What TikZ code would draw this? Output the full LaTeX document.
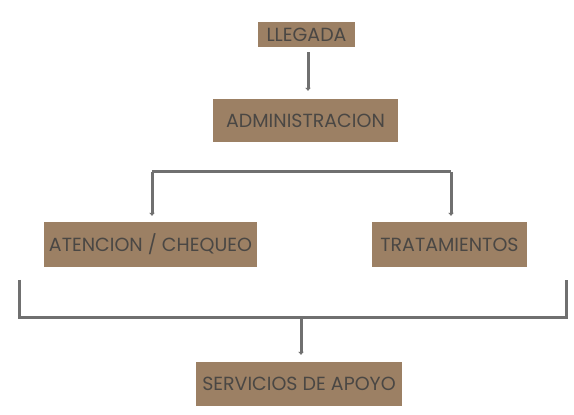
\documentclass[tikz,border=0pt]{standalone}
\usepackage{fontspec}
\setmainfont{Poppins}
\usetikzlibrary{arrows.meta}
\definecolor{boxfill}{HTML}{9C8064}
\definecolor{txt}{HTML}{4A4744}
\definecolor{lin}{HTML}{707070}
\begin{document}
\begin{tikzpicture}[x=1pt,y=1pt,
  box/.style={fill=boxfill,draw=none,inner sep=0pt,text=txt,font=\fontsize{19}{22}\selectfont,anchor=center},
  conn/.style={draw=lin,line width=3pt},
  arr/.style={conn,-{Triangle[width=5.5pt,length=3pt]}}]
\useasboundingbox (0,0) rectangle (574,415);
\fill[white] (0,0) rectangle (574,415);
\node[box,minimum width=97pt,minimum height=25pt] (ll) at (306.5,380.5) {LLEGADA};
\node[box,minimum width=185pt,minimum height=43pt] (adm) at (305.5,294.5) {ADMINISTRACION};
\node[box,minimum width=213pt,minimum height=45pt] (ate) at (150.5,170.5) {ATENCION / CHEQUEO};
\node[box,minimum width=155pt,minimum height=45pt] (tra) at (449.5,170.5) {TRATAMIENTOS};
\node[box,minimum width=206pt,minimum height=44pt] (svc) at (299,31) {SERVICIOS DE APOYO};
% top arrow
\draw[arr,shorten <=5pt,shorten >=8pt] (ll.south -| 308,0) -- (adm.north -| 308,0);
% middle bracket
\coordinate (bl) at (152,243);
\coordinate (br) at (451,243);
\draw[conn] (bl) -- (br);
\draw[arr,shorten >=6pt] (bl) -- (bl |- ate.north);
\draw[arr,shorten >=6pt] (br) -- (br |- tra.north);
% bottom bracket
\coordinate (l1) at (19,135);
\coordinate (l2) at (19,97);
\coordinate (r2) at (566,97);
\coordinate (r1) at (566,135);
\coordinate (mid) at (301,97);
\draw[conn] (l1) -- (l2) -- (r2) -- (r1);
\draw[arr,shorten >=7pt] (mid) -- (mid |- svc.north);
\end{tikzpicture}
\end{document}
